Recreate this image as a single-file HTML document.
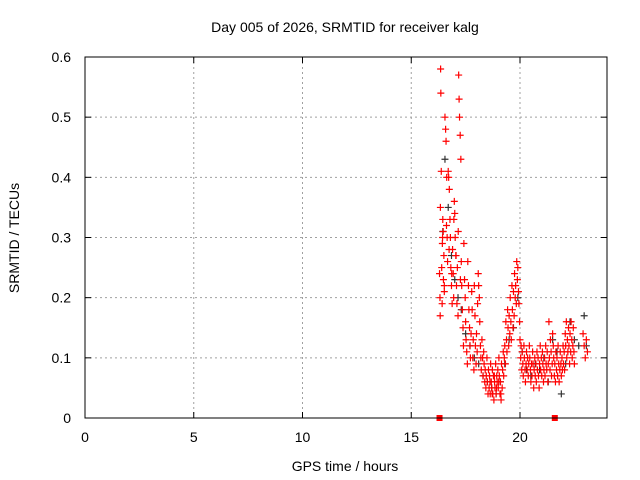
<!DOCTYPE html>
<html><head><meta charset="utf-8"><style>
body{margin:0;background:#fff;}
svg{display:block;font-family:"Liberation Sans",sans-serif;}
</style></head><body>
<svg id="chart" width="640" height="480">
<rect x="0" y="0" width="640" height="480" fill="#fff"/>
<text x="345" y="32" font-size="14" text-anchor="middle">Day 005 of 2026, SRMTID for receiver kalg</text>
<g id="grid"></g>
<g id="marks"></g>
<rect x="85" y="57" width="522" height="361" fill="none" stroke="#000" stroke-width="1"/>
<g id="ticks"></g>
<text x="345" y="471" font-size="14" text-anchor="middle">GPS time / hours</text>
<text x="19" y="238" font-size="14" text-anchor="middle" transform="rotate(-90 19 238)">SRMTID / TECUs</text>
</svg>
<script>
const xTicks=[0,5,10,15,20];
const yTicks=[0,0.1,0.2,0.3,0.4,0.5,0.6];
const yTickLabels=["0","0.1","0.2","0.3","0.4","0.5","0.6"];
const redT=[16.30,16.32,16.33,16.35,16.36,16.38,16.40,16.42,16.43,16.45,16.47,16.48,16.50,16.52,16.55,16.58,16.60,16.62,16.65,16.67,16.70,16.72,16.75,16.78,16.80,16.82,16.85,16.88,16.90,16.93,16.95,16.98,17.00,17.02,17.05,17.08,17.10,17.12,17.15,17.18,17.20,17.22,17.25,17.28,17.30,17.32,17.35,17.38,17.40,17.42,17.45,17.48,17.50,17.52,17.55,17.58,17.60,17.63,17.65,17.68,17.70,17.72,17.75,17.78,17.80,17.83,17.85,17.88,17.90,17.93,17.95,17.98,18.00,18.03,18.05,18.08,18.10,18.13,18.15,18.18,18.20,18.22,18.25,18.28,18.30,18.33,18.35,18.38,18.40,18.43,18.45,18.48,18.50,18.53,18.55,18.58,18.60,18.63,18.65,18.68,18.70,18.73,18.75,18.78,18.80,18.83,18.85,18.88,18.90,18.93,18.95,18.98,19.00,19.03,19.05,19.08,19.10,19.13,19.15,19.18,19.20,19.23,19.25,19.28,19.30,19.33,19.35,19.38,19.40,19.43,19.45,19.48,19.50,19.53,19.55,19.58,19.60,19.63,19.65,19.68,19.70,19.73,19.75,19.78,19.80,19.83,19.85,19.88,19.90,19.93,19.95,19.98,20.00,20.03,20.05,20.08,20.10,20.13,20.15,20.18,20.20,20.23,20.25,20.28,20.30,20.33,20.35,20.38,20.40,20.43,20.45,20.48,20.50,20.53,20.55,20.58,20.60,20.63,20.65,20.68,20.70,20.73,20.75,20.78,20.80,20.83,20.85,20.88,20.90,20.93,20.95,20.98,21.00,21.03,21.05,21.08,21.10,21.13,21.15,21.18,21.20,21.23,21.25,21.28,21.30,21.33,21.35,21.38,21.40,21.43,21.45,21.48,21.50,21.53,21.55,21.58,21.60,21.63,21.65,21.68,21.70,21.73,21.75,21.78,21.80,21.83,21.85,21.88,21.90,21.93,21.95,21.98,22.00,22.03,22.05,22.08,22.10,22.13,22.15,22.18,22.20,22.23,22.25,22.28,22.30,22.33,22.35,22.38,22.40,22.43,22.45,22.48,22.50,22.53,22.55,22.58,22.60,22.63,22.65,22.68,22.70,22.73,22.75,22.78,22.80,22.83,22.85];
const redV=[0.24,0.20,0.17,0.58,0.54,0.41,0.25,0.19,0.29,0.33,0.31,0.23,0.27,0.22,0.50,0.48,0.46,0.32,0.30,0.26,0.41,0.40,0.38,0.33,0.30,0.25,0.22,0.19,0.28,0.24,0.20,0.36,0.34,0.30,0.27,0.22,0.19,0.25,0.17,0.57,0.53,0.50,0.47,0.43,0.26,0.22,0.18,0.15,0.12,0.29,0.23,0.20,0.16,0.13,0.11,0.09,0.26,0.22,0.18,0.15,0.12,0.10,0.14,0.21,0.18,0.10,0.13,0.08,0.22,0.17,0.12,0.09,0.14,0.11,0.19,0.24,0.22,0.20,0.16,0.12,0.10,0.08,0.13,0.10,0.07,0.11,0.09,0.06,0.08,0.05,0.07,0.10,0.06,0.04,0.08,0.05,0.07,0.04,0.09,0.06,0.05,0.08,0.04,0.07,0.03,0.06,0.05,0.09,0.04,0.07,0.06,0.08,0.05,0.10,0.07,0.04,0.06,0.03,0.09,0.05,0.08,0.11,0.07,0.10,0.12,0.09,0.16,0.13,0.11,0.18,0.15,0.12,0.17,0.14,0.20,0.16,0.13,0.22,0.18,0.15,0.21,0.17,0.24,0.20,0.22,0.19,0.26,0.23,0.25,0.21,0.19,0.16,0.13,0.10,0.12,0.08,0.11,0.09,0.07,0.12,0.10,0.08,0.06,0.09,0.11,0.08,0.10,0.07,0.09,0.12,0.10,0.08,0.06,0.09,0.07,0.11,0.09,0.05,0.08,0.10,0.07,0.09,0.06,0.11,0.08,0.10,0.07,0.05,0.09,0.12,0.08,0.10,0.07,0.11,0.09,0.06,0.08,0.10,0.07,0.12,0.09,0.08,0.11,0.06,0.09,0.16,0.10,0.08,0.13,0.11,0.07,0.09,0.14,0.12,0.10,0.07,0.09,0.06,0.11,0.08,0.10,0.07,0.12,0.09,0.06,0.08,0.11,0.09,0.07,0.10,0.08,0.12,0.09,0.11,0.08,0.14,0.12,0.16,0.10,0.13,0.11,0.15,0.12,0.09,0.14,0.11,0.16,0.13,0.10,0.12,0.15,0.11,0.09];
const extraT=[22.90,22.95,23.00,23.05,23.10,16.34,16.44,16.52,16.63,16.74,16.86,16.96,17.06,17.16,17.26,18.62,18.72,18.82,18.92,19.02,19.12];
const extraV=[0.14,0.12,0.10,0.13,0.11,0.35,0.30,0.21,0.40,0.28,0.24,0.33,0.27,0.31,0.23,0.06,0.04,0.07,0.05,0.06,0.04];
const blackT=[16.45,16.55,16.70,16.85,17.00,17.15,17.30,17.50,17.70,17.90,18.10,18.30,18.50,18.70,18.90,19.10,19.30,19.50,19.70,19.90,20.10,20.30,20.50,20.70,20.90,21.10,21.30,21.50,21.70,21.90,22.10,22.30,22.50,22.70,22.95,23.05];
const blackV=[0.31,0.43,0.35,0.27,0.23,0.20,0.18,0.14,0.12,0.10,0.09,0.07,0.06,0.05,0.04,0.06,0.09,0.13,0.15,0.20,0.11,0.08,0.07,0.09,0.08,0.10,0.06,0.13,0.11,0.04,0.09,0.16,0.13,0.12,0.17,0.12];
const flagT=[16.3,21.6];
const flagV=[0,0];
const X0=85,X1=607,Y0=418,Y1=57;
function sx(t){return X0+(t-0)/24*(X1-X0);}
function sy(v){return Y0-(v-0)/0.6*(Y0-Y1);}
const NS="http://www.w3.org/2000/svg";
const grid=document.getElementById('grid'),ticks=document.getElementById('ticks'),marks=document.getElementById('marks');
function mk(tag,attrs,parent){const e=document.createElementNS(NS,tag);for(const k in attrs)e.setAttribute(k,attrs[k]);parent.appendChild(e);return e;}
xTicks.forEach((t,i)=>{
 const x=sx(t);
 if(i>0){const g=mk('line',{x1:x,y1:Y1,x2:x,y2:Y0,stroke:'#a0a0a0','stroke-dasharray':'2,3'},grid);
 
 }
 mk('line',{x1:x,y1:Y0,x2:x,y2:Y0-6,stroke:'#000'},ticks);
 mk('line',{x1:x,y1:Y1,x2:x,y2:Y1+6,stroke:'#000'},ticks);
 const l=mk('text',{x:x,y:Y0+24,'font-size':14,'text-anchor':'middle'},ticks);l.textContent=String(t);
 
 
});
yTicks.forEach((v,i)=>{
 const y=sy(v);
 if(i>0&&i<yTicks.length-1){const g=mk('line',{x1:X0,y1:y,x2:X1,y2:y,stroke:'#a0a0a0','stroke-dasharray':'2,3'},grid);
 
 }
 mk('line',{x1:X0,y1:y,x2:X0+6,y2:y,stroke:'#000'},ticks);
 mk('line',{x1:X1,y1:y,x2:X1-6,y2:y,stroke:'#000'},ticks);
 const l=mk('text',{x:X0-14,y:y+5,'font-size':14,'text-anchor':'end'},ticks);l.textContent=yTickLabels[i];
 
 
});
function plus(x,y,c,name){
 const p=mk('path',{d:`M${x-3.5},${y}h7M${x},${y-3.5}v7`,stroke:c,'stroke-width':1.2,fill:'none'},marks);
 
 
}
blackT.forEach((t,i)=>plus(sx(t),sy(blackV[i]),'#333','black-point'));
redT.forEach((t,i)=>plus(sx(t),sy(redV[i]),'#ff0000','red-point'));
extraT.forEach((t,i)=>plus(sx(t),sy(extraV[i]),'#ff0000','red-point'));
flagT.forEach((t,i)=>{
 const r=mk('rect',{x:sx(t)-3,y:sy(flagV[i])-3,width:6,height:6,fill:'#ff0000'},marks);
 
 
});
</script>
</body></html>
